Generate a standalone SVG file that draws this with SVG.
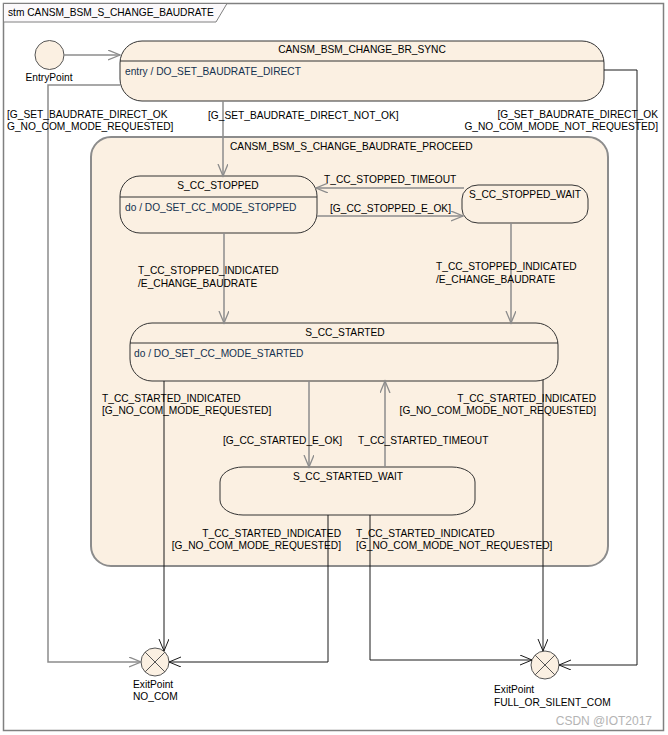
<svg xmlns="http://www.w3.org/2000/svg" width="668" height="735" viewBox="0 0 668 735">
<style>
text{font-family:"Liberation Sans",Arial,sans-serif;font-size:10.2px;fill:#000}
.act{fill:#143250}
.end{text-anchor:end}
.mid{text-anchor:middle}
.st{fill:#fbf0e2;stroke:#333;stroke-width:1}
.comp{fill:#fbf0e2;stroke:#8c8c8c;stroke-width:2}
.g{fill:none;stroke:#8c8c8c;stroke-width:1.5}
.k{fill:none;stroke:#1a1a1a;stroke-width:1}
.div{stroke:#333;stroke-width:1}
.wm{font-size:12px;fill:#b4b4b4}
</style>
<defs>
<marker id="ag" markerUnits="userSpaceOnUse" markerWidth="14" markerHeight="12" refX="12" refY="5" orient="auto"><path d="M0,0 L12,5 L0,10" fill="none" stroke="#8c8c8c" stroke-width="1.3"/></marker>
<marker id="ak" markerUnits="userSpaceOnUse" markerWidth="14" markerHeight="12" refX="12" refY="5" orient="auto"><path d="M0,0 L12,5 L0,10" fill="none" stroke="#1a1a1a" stroke-width="1"/></marker>
</defs>
<rect x="0" y="0" width="668" height="735" fill="#fff"/>
<g id="frame">
<rect x="3.5" y="3.5" width="660" height="727" fill="#fff" stroke="#808080" stroke-width="1.5"/>
<path d="M3.5,3.5 H227 L216,22 H3.5 Z" fill="#fbf9fb" stroke="#808080" stroke-width="1"/>
<text x="8" y="16">stm CANSM_BSM_S_CHANGE_BAUDRATE</text>
</g>
<g id="proceed">
<rect class="comp" x="91" y="137" width="517" height="429" rx="20"/>
<text x="230" y="150">CANSM_BSM_S_CHANGE_BAUDRATE_PROCEED</text>
</g>
<g id="entry">
<circle cx="49.5" cy="55" r="14.5" fill="#fbf0e2" stroke="#555" stroke-width="1"/>
<text class="mid" x="49" y="81">EntryPoint</text>
</g>
<g id="br_sync">
<rect class="st" x="120" y="41" width="484" height="60" rx="22"/>
<line class="div" x1="120" y1="61" x2="604" y2="61"/>
<text class="mid" x="362" y="53">CANSM_BSM_CHANGE_BR_SYNC</text>
<text class="act" x="125" y="75">entry / DO_SET_BAUDRATE_DIRECT</text>
</g>
<g id="s_cc_stopped">
<rect class="st" x="120" y="176" width="197" height="57" rx="20"/>
<line class="div" x1="120" y1="197" x2="317" y2="197"/>
<text class="mid" x="218" y="189">S_CC_STOPPED</text>
<text class="act" x="125" y="211">do / DO_SET_CC_MODE_STOPPED</text>
</g>
<g id="s_cc_stopped_wait">
<rect class="st" x="462" y="185" width="126" height="38" rx="16" ry="14"/>
<text class="mid" x="525" y="198">S_CC_STOPPED_WAIT</text>
</g>
<g id="s_cc_started">
<rect class="st" x="130" y="323" width="428" height="58" rx="22"/>
<line class="div" x1="130" y1="343" x2="558" y2="343"/>
<text class="mid" x="345" y="336">S_CC_STARTED</text>
<text class="act" x="134" y="357">do / DO_SET_CC_MODE_STARTED</text>
</g>
<g id="s_cc_started_wait">
<rect class="st" x="220" y="467" width="255" height="48" rx="23" ry="15"/>
<text class="mid" x="348" y="480">S_CC_STARTED_WAIT</text>
</g>
<g id="exit_no_com">
<circle cx="155" cy="662" r="14" fill="#fbf0e2" stroke="#555" stroke-width="1"/>
<path d="M145.1,652.1 L164.9,671.9 M164.9,652.1 L145.1,671.9" stroke="#555" stroke-width="1"/>
<text x="133" y="688">ExitPoint</text>
<text x="133" y="700">NO_COM</text>
</g>
<g id="exit_full_or_silent_com">
<circle cx="545" cy="665" r="14" fill="#fbf0e2" stroke="#555" stroke-width="1"/>
<path d="M535.1,655.1 L554.9,674.9 M554.9,655.1 L535.1,674.9" stroke="#555" stroke-width="1"/>
<text x="494" y="693">ExitPoint</text>
<text x="494" y="706">FULL_OR_SILENT_COM</text>
</g>
<g id="connectors">
<path class="g" d="M64,55 H120" marker-end="url(#ag)"/>
<path class="g" d="M120,85 H48 V662 H141" marker-end="url(#ag)"/>
<path class="g" d="M223,101 V176" marker-end="url(#ag)"/>
<path class="k" d="M604,70 H637 V665 H559" marker-end="url(#ak)"/>
<path class="g" d="M464,188 H316" marker-end="url(#ag)"/>
<path class="g" d="M317,216 H463" marker-end="url(#ag)"/>
<path class="g" d="M224,233 V323" marker-end="url(#ag)"/>
<path class="g" d="M511,223 V323" marker-end="url(#ag)"/>
<path class="k" d="M164,381 V651" marker-end="url(#ak)"/>
<path class="g" d="M309,381 V467" marker-end="url(#ag)"/>
<path class="g" d="M385,467 V381" marker-end="url(#ag)"/>
<path class="k" d="M543,380 V651" marker-end="url(#ak)"/>
<path class="k" d="M328,515 V662 H169" marker-end="url(#ak)"/>
<path class="k" d="M370,515 V660 H532" marker-end="url(#ak)"/>
</g>
<g id="labels">
<text x="7" y="118">[G_SET_BAUDRATE_DIRECT_OK</text>
<text x="7" y="130">G_NO_COM_MODE_REQUESTED]</text>
<text x="208" y="119">[G_SET_BAUDRATE_DIRECT_NOT_OK]</text>
<text class="end" x="658" y="118">[G_SET_BAUDRATE_DIRECT_OK</text>
<text class="end" x="658" y="130">G_NO_COM_MODE_NOT_REQUESTED]</text>
<text x="324" y="183">T_CC_STOPPED_TIMEOUT</text>
<text x="330" y="212">[G_CC_STOPPED_E_OK]</text>
<text x="138" y="274">T_CC_STOPPED_INDICATED</text>
<text x="138" y="287">/E_CHANGE_BAUDRATE</text>
<text x="436" y="270">T_CC_STOPPED_INDICATED</text>
<text x="436" y="283">/E_CHANGE_BAUDRATE</text>
<text x="102" y="402">T_CC_STARTED_INDICATED</text>
<text x="102" y="414">[G_NO_COM_MODE_REQUESTED]</text>
<text class="end" x="596" y="402">T_CC_STARTED_INDICATED</text>
<text class="end" x="596" y="414">[G_NO_COM_MODE_NOT_REQUESTED]</text>
<text x="223" y="444">[G_CC_STARTED_E_OK]</text>
<text x="358" y="444">T_CC_STARTED_TIMEOUT</text>
<text class="end" x="341" y="537">T_CC_STARTED_INDICATED</text>
<text class="end" x="341" y="549">[G_NO_COM_MODE_REQUESTED]</text>
<text x="356" y="537">T_CC_STARTED_INDICATED</text>
<text x="356" y="549">[G_NO_COM_MODE_NOT_REQUESTED]</text>
<text class="wm end" x="652" y="725">CSDN @IOT2017</text>
</g>
</svg>
